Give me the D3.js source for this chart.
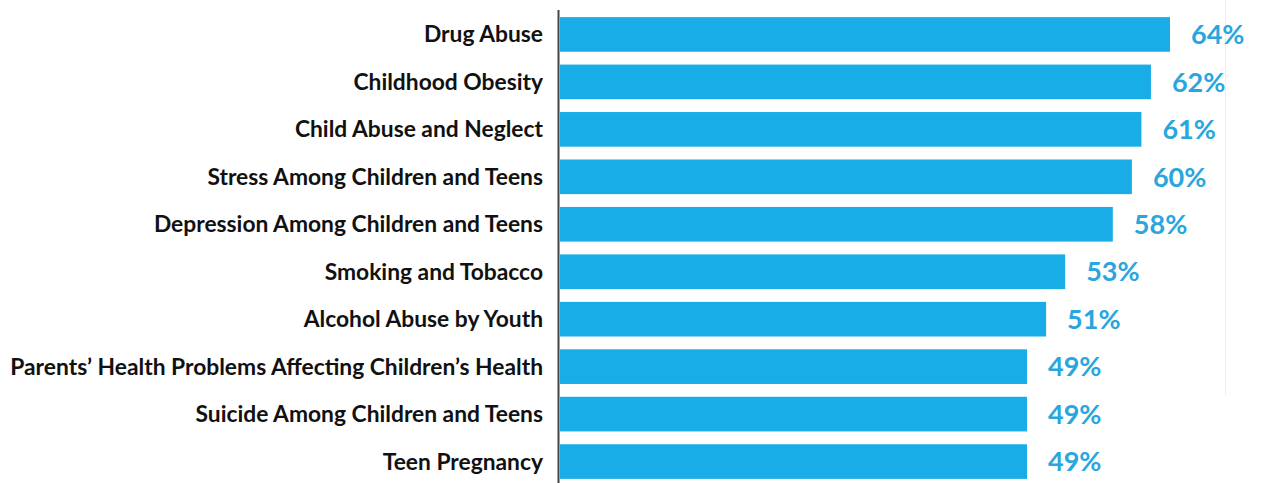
<!DOCTYPE html>
<html><head><meta charset="utf-8">
<script src="https://cdn.jsdelivr.net/npm/d3@7"></script>
<style>
html,body{margin:0;padding:0;background:#fff;}
svg{display:block;}
</style></head>
<body><svg id="chart" width="1266" height="483"></svg>
<script>
const categories = ["Drug Abuse","Childhood Obesity","Child Abuse and Neglect","Stress Among Children and Teens","Depression Among Children and Teens","Smoking and Tobacco","Alcohol Abuse by Youth","Parents\u2019 Health Problems Affecting Children\u2019s Health","Suicide Among Children and Teens","Teen Pregnancy"];
const values = [64,62,61,60,58,53,51,49,49,49];
const valueLabels = ["64%","62%","61%","60%","58%","53%","51%","49%","49%","49%"];

const svg = d3.select("#chart");
const x = d3.scaleLinear().domain([0,64]).range([560,1170]);
const y = d3.scaleBand().domain(categories).range([10,486]).paddingInner(0.27).paddingOuter(0.15);

// faint frame line
svg.append("line").attr("x1",1225.5).attr("x2",1225.5).attr("y1",0).attr("y2",395)
  .attr("stroke","#ececec").attr("stroke-width",1);

svg.append("g").selectAll("rect").data(categories).join("rect")
  .attr("x",x(0)).attr("y",d=>y(d)).attr("height",y.bandwidth())
  .attr("width",(d,i)=>x(values[i])-x(0)).attr("fill","#18ADE6");

svg.append("g").selectAll("text").data(categories).join("text")
  .attr("x",543).attr("y",d=>y(d)+y.bandwidth()/2).attr("dy","0.35em")
  .attr("text-anchor","end").attr("font-family","Lato, 'Open Sans', sans-serif")
  .attr("font-weight","bold").attr("font-size",22.8).attr("fill","#111")
  .text(d=>d);

svg.append("g").selectAll("text").data(categories).join("text")
  .attr("x",(d,i)=>x(values[i])+21).attr("y",d=>y(d)+y.bandwidth()/2).attr("dy","0.36em")
  .attr("font-family","Lato, 'Open Sans', sans-serif")
  .attr("font-weight","bold").attr("font-size",27).attr("fill","#29A6DE")
  .text((d,i)=>valueLabels[i]);

// axis line
const axis = d3.axisLeft(y).tickSize(0).tickFormat("");
svg.append("g").attr("transform","translate(558.5,0)").call(axis)
  .call(g=>g.select(".domain").attr("d","M0,10V483").attr("stroke","#444").attr("stroke-width",2));
</script></body></html>
